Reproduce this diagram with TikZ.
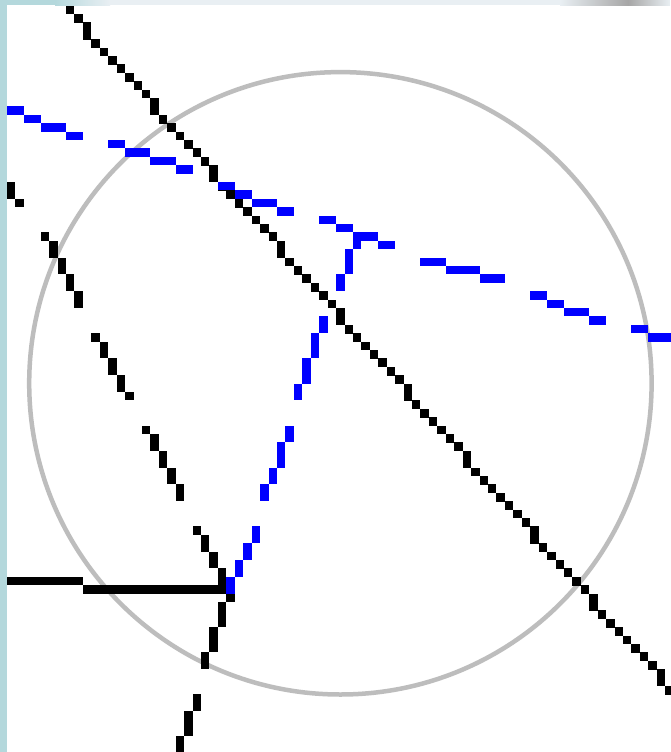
\documentclass[tikz,border=0pt]{standalone}
\usepackage{tikz}

\definecolor{frameteal}{HTML}{B4D8DC}
\definecolor{barlight}{HTML}{E9EFF3}
\definecolor{bargray}{HTML}{A6A6A6}
\definecolor{ringgray}{HTML}{BDBDBD}
\definecolor{pixblue}{HTML}{0000FF}

\begin{document}
\begin{tikzpicture}[
    x=1pt,y=-1pt,
    edgefill/.style={fill=frameteal},
    ringline/.style={draw=ringgray,line width=4.5pt},
    blk/.style={fill=black},
    blu/.style={fill=pixblue},
    pixgrid/.style={shift={(6.9pt,-5.6pt)},x=8.44pt,y=-8.4pt}
  ]
  \useasboundingbox (0,0) rectangle (670,752);
  \fill[white] (0,0) rectangle (670,752);

  % window edge
  \fill[edgefill] (0,0) rectangle (6.9,752);
  \fill[edgefill] (0,0) rectangle (55,5.2);
  \shade[left color=frameteal,right color=barlight] (55,0) rectangle (110,5.2);
  \fill[barlight] (110,0) rectangle (560,5.2);
  \shade[left color=barlight,right color=bargray] (560,0) rectangle (628,5.2);
  \shade[left color=bargray,right color=barlight] (628,0) rectangle (670,5.2);

  \coordinate (ctr) at (340.4,383.3);
  \draw[ringline] (ctr) circle[radius=311.2];

  \begin{scope}[pixgrid]
    % long diagonal
    \foreach \r in {0,...,81}{
      \pgfmathtruncatemacro{\c}{round(6.8+0.883*\r)}
      \fill[blk] (\c,\r) rectangle ++(1,1.05);
    }
    % dashed line from the left edge down to the joint
    \foreach \c/\a/\b in {0/21/22,1/23/23,4/27/27,5/28/29,6/30/31,7/32/33,8/34/35,
        10/39/39,11/40/41,12/42/43,13/44/45,14/46/46,16/50/50,17/51/52,18/53/54,
        19/55/56,20/57/58,22/62/62,23/63/64,24/65/66,25/67/68}
      \fill[blk] (\c,\a) rectangle (\c+1,\b+1);
    % below the joint
    \foreach \c/\a/\b in {26/70/70,25/71/73,24/74/76,23/77/78,22/82/83,21/84/86,20/87/88}
      \fill[blk] (\c,\a) rectangle (\c+1,\b+1);
    % flat line into the joint
    \foreach \r/\a/\b in {68/0/8,69/9/25}
      \fill[blk] (\a,\r) rectangle (\b+1,\r+1);

    % blue dashed line across the top
    \foreach \r/\a/\b in {12/0/1,13/2/3,14/4/6,15/7/8,
        16/12/13,17/14/16,18/17/19,19/20/21,
        21/25/26,22/27/28,23/29/31,24/32/33,
        25/37/38,26/39/40,27/41/43,28/44/45,
        30/49/51,31/52/55,32/56/58,
        34/62/63,35/64/65,36/66/68,37/69/70,
        38/74/75,39/76/78}
      \fill[blu] (\a,\r) rectangle (\b+1,\r+1);
    % blue dashed branch down to the joint
    \foreach \c/\a/\b in {41/28/28,40/29/31,39/32/33,
        37/37/38,36/39/41,35/42/44,34/45/46,
        33/50/51,32/52/54,31/55/56,30/57/58,
        29/62/63,28/64/65,27/66/67,26/68/69}
      \fill[blu] (\c,\a) rectangle (\c+1,\b+1);
  \end{scope}
\end{tikzpicture}
\end{document}
